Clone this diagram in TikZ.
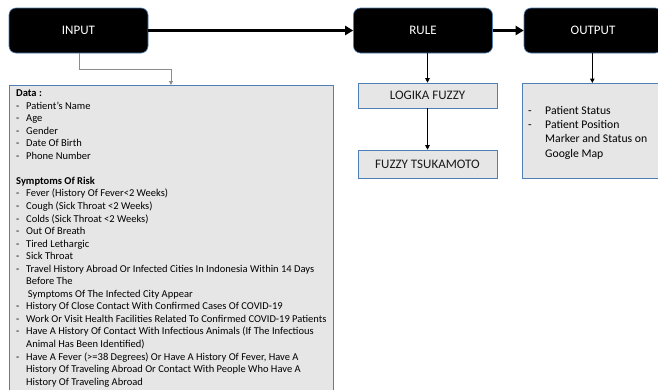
\documentclass[tikz,border=0pt]{standalone}
\usepackage{fontspec}
\setmainfont{Carlito}
\usetikzlibrary{arrows.meta,positioning}
\definecolor{bordblue}{HTML}{4F7FB5}
\definecolor{boxgray}{HTML}{E7E6E6}
\definecolor{linegray}{HTML}{8C8C8C}
\newcommand{\itm}[1]{\makebox[10pt][l]{-}#1}
\newcommand{\cont}[1]{\hspace*{10pt}#1}
\begin{document}
\begin{tikzpicture}[x=1pt,y=-1pt,
  head/.style={draw=bordblue,line width=0.6pt,fill=black,rounded corners=7pt,
    text=white,font=\fontsize{13}{15}\selectfont,minimum width=139pt,minimum height=45pt,inner sep=0pt},
  graybox/.style={draw=bordblue,line width=0.6pt,fill=boxgray,inner sep=0pt,font=\fontsize{13}{15}\selectfont,text=black!90},
  thick arrow/.style={line width=2.6pt,-{Triangle[length=8pt,width=9pt]}},
  thin arrow/.style={line width=1pt,-{Triangle[length=4.5pt,width=4.5pt]}},
  datatxt/.style={font=\fontsize{10.5}{12.55}\selectfont,text=black},
  outtxt/.style={font=\fontsize{11.7}{14.3}\selectfont,text=black}]
\clip (0,0) rectangle (658,389);
% header boxes
\node[head] (input) at (78.5,30.5) {INPUT};
\node[head] (rule) at (423,30.5) {RULE};
\node[head,minimum width=138pt] (output) at (593,30.5) {OUTPUT};
% gray boxes
\node[graybox,minimum width=139pt,minimum height=25pt] (logika) at (427.5,95.5) {LOGIKA FUZZY};
\node[graybox,minimum width=139pt,minimum height=28pt] (tsuka) at (427.5,164) {FUZZY TSUKAMOTO};
\node[graybox,minimum width=140pt,minimum height=95pt,anchor=north west] (outbox) at (522,83) {};
\node[outtxt,anchor=north west,align=left,inner sep=0pt] (outtext) at (528,106)
  {\makebox[17pt][l]{-}Patient Status\\
   \makebox[17pt][l]{-}Patient Position\\
   \hspace*{17pt}Marker and Status on\\
   \hspace*{17pt}Google Map};
\node[graybox,minimum width=324pt,minimum height=320pt,anchor=north west] (data) at (9,85) {};
\node[datatxt,anchor=north west,align=left,inner sep=0pt] (datatext) at (16,89.5)
  {\textbf{Data :}\\
   \itm{Patient's Name}\\
   \itm{Age}\\
   \itm{Gender}\\
   \itm{Date Of Birth}\\
   \itm{Phone Number}\\
   \mbox{}\\
   \textbf{Symptoms Of Risk}\\
   \itm{Fever (History Of Fever<2 Weeks)}\\
   \itm{Cough (Sick Throat <2 Weeks)}\\
   \itm{Colds (Sick Throat <2 Weeks)}\\
   \itm{Out Of Breath}\\
   \itm{Tired Lethargic}\\
   \itm{Sick Throat}\\
   \itm{Travel History Abroad Or Infected Cities In Indonesia Within 14 Days}\\
   \cont{Before The}\\
   \cont{\,Symptoms Of The Infected City Appear}\\
   \itm{History Of Close Contact With Confirmed Cases Of COVID-19}\\
   \itm{Work Or Visit Health Facilities Related To Confirmed COVID-19 Patients}\\
   \itm{Have A History Of Contact With Infectious Animals (If The Infectious}\\
   \cont{Animal Has Been Identified)}\\
   \itm{Have A Fever (>=38 Degrees) Or Have A History Of Fever, Have A}\\
   \cont{History Of Traveling Abroad Or Contact With People Who Have A}\\
   \cont{History Of Traveling Abroad}};
% connectors
\draw[thick arrow] (input.east) -- (rule.west);
\draw[thick arrow] (rule.east) -- (output.west);
\draw[thin arrow] (rule.south -| logika.north) -- (logika.north);
\draw[thin arrow] (logika.south) -- (tsuka.north);
\draw[thin arrow] (output.south -| outbox.north) -- (outbox.north);
\coordinate (c1) at (79,69);
\coordinate (c2) at (171,69);
\draw[linegray,line width=1pt,-{Triangle[length=4pt,width=4pt]}] (input.south -| c1) -- (c1) -- (c2) -- (c2 |- data.north);
\end{tikzpicture}
\end{document}
